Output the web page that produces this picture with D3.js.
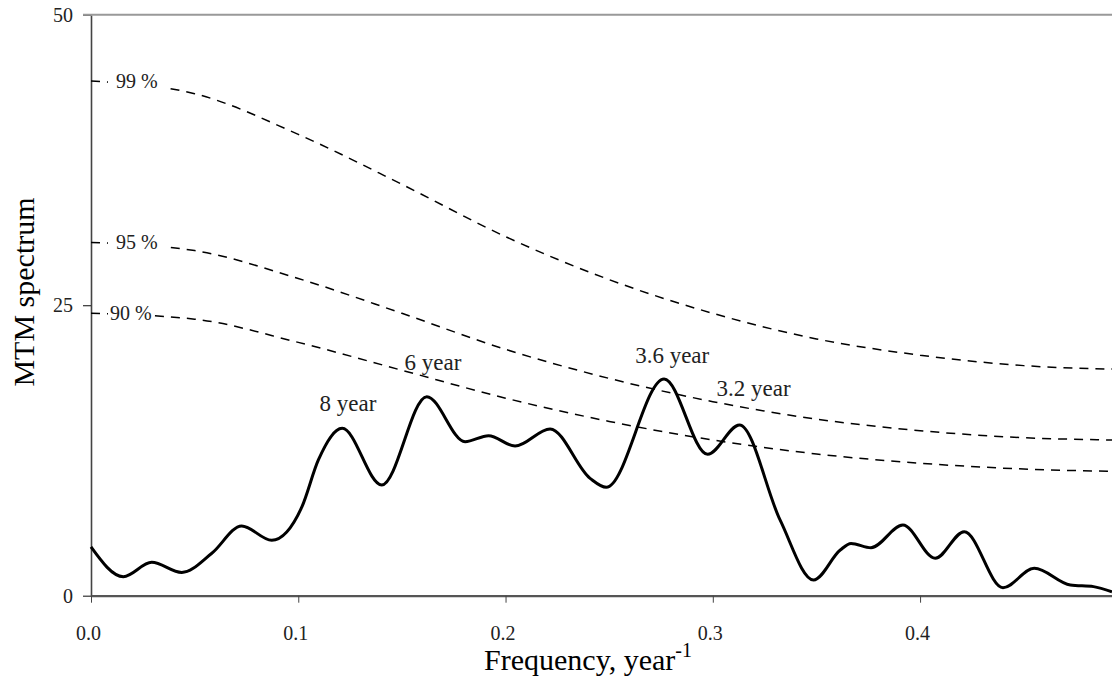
<!DOCTYPE html>
<html><head><meta charset="utf-8">
<script src="https://cdn.jsdelivr.net/npm/d3@7"></script>
<style>
body{margin:0;background:#fff}
svg{display:block}
text{font-family:"Liberation Serif","Times New Roman",serif}
</style>
</head><body>
<svg id="chart" width="1112" height="682"></svg>
<script>
// ---- data ----
const freq = [0.000,0.0156,0.0293,0.0438,0.0583,0.0727,0.0872,0.1018,0.1097,0.1212,0.1403,0.1620,0.1805,0.1918,0.2046,0.2215,0.2408,0.2486,0.2765,0.2975,0.3129,0.3325,0.3486,0.3615,0.3667,0.3763,0.3917,0.4073,0.4213,0.4400,0.4551,0.4725,0.4837,0.4926];
const spectrum = [4.2,1.64,2.87,2.0,3.65,6.0,4.77,7.66,11.68,14.4,9.53,17.13,13.25,13.77,12.88,14.35,10.1,9.33,18.65,12.17,14.69,6.5,1.35,3.93,4.5,4.13,6.08,3.22,5.51,0.69,2.36,0.92,0.78,0.34];

const levelFreq = [0,0.05,0.1,0.15,0.2,0.25,0.3,0.35,0.4,0.45,0.4926];
const level99 = [44.3,43.2,39.7,35.4,30.9,27.2,24.3,22.1,20.7,19.8,19.5];
const level95 = [30.4,29.7,27.3,24.3,21.2,18.7,16.7,15.2,14.2,13.6,13.4];
const level90 = [24.3,23.8,21.8,19.4,17.0,15.0,13.4,12.2,11.4,10.9,10.7];
const levelLabels = ["99 %","95 %","90 %"];

const peakLabels = ["8 year","6 year","3.6 year","3.2 year"];
const peakLabelFreq = [0.124,0.165,0.2804,0.3197];
const peakLabelValue = [15.9,19.4,20.0,17.2];

const xTicks = [0,0.1,0.2,0.3,0.4];
const yTicks = [0,25,50];

// ---- drawing ----
const svg = d3.select("#chart");
const x = d3.scaleLinear().domain([0,0.4926]).range([91,1112]);
const y = d3.scaleLinear().domain([0,50]).range([595.7,14.7]);

// axes
const yAxis = svg.append("g").attr("transform","translate(91,0)")
  .call(d3.axisLeft(y).tickValues(yTicks).tickSize(8).tickSizeOuter(0).tickPadding(10).tickFormat(d3.format("d")));
yAxis.select(".domain").attr("stroke","#444").attr("stroke-width",1.6);
yAxis.selectAll(".tick line").attr("stroke","#333").attr("stroke-width",1.2);
yAxis.selectAll(".tick text").attr("font-size",20).attr("fill","#222").attr("font-family","Liberation Serif");

const xAxis = svg.append("g").attr("transform","translate(0,595.7)")
  .call(d3.axisBottom(x).tickValues(xTicks).tickSize(7).tickSizeOuter(0).tickPadding(23).tickFormat(d3.format(".1f")));
xAxis.select(".domain").attr("stroke","#555").attr("stroke-width",2.2);
xAxis.selectAll(".tick line").attr("stroke","#444").attr("stroke-width",1);
xAxis.selectAll(".tick text").attr("font-size",20).attr("fill","#222").attr("dx",-3).attr("font-family","Liberation Serif");

// top frame line
svg.append("line").attr("x1",83).attr("x2",1112).attr("y1",y(50)).attr("y2",y(50))
  .attr("stroke","#999").attr("stroke-width",2);

// significance levels (dashed)
const line = d3.line().x(d=>x(d[0])).y(d=>y(d[1])).curve(d3.curveMonotoneX);
const levels = [level99, level95, level90];
levels.forEach((lv,i)=>{
  const pts = levelFreq.map((f,j)=>[f,lv[j]]);
  svg.append("path").datum(pts).attr("d",line)
    .attr("fill","none").attr("stroke","#000").attr("stroke-width",1.5)
    .attr("stroke-dasharray","9,7");
});
levels.forEach((lv,i)=>{
  const g = svg.append("g");
  const t = g.append("text").attr("x", i===2 ? 110 : 116).attr("y", y(lv[0])).attr("dy","0.33em")
    .attr("font-size",20).attr("fill","#222").text(levelLabels[i]);
  const bb = t.node().getBBox();
  g.insert("rect","text").attr("x",108).attr("y",bb.y-2)
    .attr("width", bb.x+bb.width+(i===2?2:8)-108).attr("height",bb.height+4).attr("fill","#fff");
});

// spectrum
svg.append("path").datum(freq.map((f,i)=>[f,spectrum[i]])).attr("d",line)
  .attr("fill","none").attr("stroke","#000").attr("stroke-width",3).attr("stroke-linejoin","round");

// peak labels
svg.selectAll(".peak").data(peakLabels).enter().append("text")
  .attr("class","peak")
  .attr("x",(d,i)=>x(peakLabelFreq[i])).attr("y",(d,i)=>y(peakLabelValue[i]))
  .attr("text-anchor","middle").attr("font-size",23).attr("fill","#222").text(d=>d);

// axis titles
const xt = svg.append("text").attr("x",588).attr("y",670).attr("text-anchor","middle")
  .attr("font-size",30).attr("fill","#000");
xt.append("tspan").text("Frequency, year");
xt.append("tspan").attr("dy",-13).attr("font-size",20).text("-1");

svg.append("text").attr("transform","translate(34,292) rotate(-90)")
  .attr("text-anchor","middle").attr("font-size",30).attr("fill","#000").text("MTM spectrum");
</script>
</body></html>
